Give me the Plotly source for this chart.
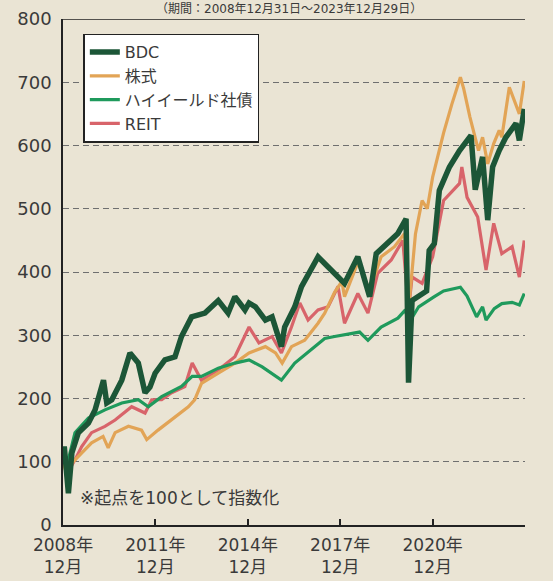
import plotly.graph_objects as go

# ---------------- data ----------------
bdc_dates = ["2008-12-31","2009-01-15","2009-03-05","2009-04-15","2009-07-01","2009-10-28","2010-01-15",
             "2010-04-25","2010-06-03","2010-08-01","2010-11-28","2011-03-05","2011-06-12","2011-08-31",
             "2011-10-28","2011-12-28","2012-04-22","2012-08-20","2012-11-05","2013-03-05","2013-08-10",
             "2014-01-15","2014-05-12","2014-07-31","2014-11-28","2015-01-15","2015-04-01","2015-07-28",
             "2015-10-15","2016-02-03","2016-03-12","2016-07-10","2016-09-28","2017-01-25","2017-04-12",
             "2017-08-10","2018-02-20","2018-07-28","2018-12-15","2019-03-03","2019-07-20","2019-11-15",
             "2020-02-20","2020-03-20","2020-05-01","2020-08-28","2020-10-20","2020-11-20","2021-01-20",
             "2021-03-20","2021-07-18","2021-11-15","2022-03-31","2022-05-20","2022-08-15","2022-10-15",
             "2022-12-12","2023-02-28","2023-05-18","2023-09-15","2023-10-25","2023-12-22"]
bdc_values = [100,124,50,114,146,161,182,
              229,193,198,229,272,256,209,
              218,240,261,266,298,329,335,
              355,335,361,340,351,345,324,
              329,282,313,345,377,403,424,
              408,382,424,361,429,445,461,
              484,225,355,366,370,434,445,
              529,566,592,616,530,582,482,
              566,592,613,635,608,658]

stock_dates = ["2008-12-31","2009-03-06","2009-04-15","2009-08-10","2009-12-05","2010-04-20","2010-06-20",
               "2010-09-10","2011-02-15","2011-07-20","2011-09-20","2012-02-01","2012-07-10","2013-01-25",
               "2013-04-10","2013-06-30","2014-01-15","2014-07-31","2015-01-15","2015-07-28","2015-11-25",
               "2016-02-12","2016-06-01","2016-11-05","2017-04-12","2017-06-30","2017-10-25","2018-01-20",
               "2018-02-20","2018-07-28","2018-12-15","2019-04-30","2019-10-05","2020-02-02","2020-03-20",
               "2020-06-10","2020-08-28","2020-10-28","2020-12-31","2021-05-10","2021-08-15","2021-11-25",
               "2022-01-03","2022-03-18","2022-06-28","2022-08-15","2022-10-15","2022-12-25","2023-02-28",
               "2023-03-31","2023-06-28","2023-09-15","2023-10-25","2023-12-22"]
stock_values = [100,72,98,114,130,140,122,
                146,156,150,135,150,166,187,
                198,224,240,256,272,282,272,
                256,282,292,319,335,368,385,
                361,415,371,424,440,461,340,
                460,513,500,550,620,665,708,
                690,645,592,613,571,603,624,
                613,692,666,650,702]

hy_dates = ["2008-12-31","2009-01-28","2009-03-06","2009-05-22","2009-10-28","2010-05-12","2010-11-28",
            "2011-06-12","2011-10-08","2012-03-15","2012-11-05","2013-03-12","2013-06-30","2014-01-15",
            "2014-07-31","2015-01-15","2015-06-20","2016-02-03","2016-07-10","2017-01-25","2017-06-30",
            "2017-10-25","2018-05-12","2018-08-18","2018-11-25","2019-04-30","2019-11-15","2020-02-12",
            "2020-03-22","2020-07-18","2021-01-20","2021-05-10","2021-11-25","2022-02-12","2022-06-05",
            "2022-08-15","2022-09-25","2022-12-31","2023-03-31","2023-07-31","2023-10-25","2023-12-22"]
hy_values = [100,108,104,146,169,182,193,
             198,187,203,219,235,235,248,
             256,261,250,229,256,277,295,
             298,303,305,292,313,327,340,
             319,345,361,370,376,362,329,
             345,324,342,350,352,348,366]

reit_dates = ["2008-12-31","2009-03-05","2009-05-22","2009-08-10","2009-12-05","2010-05-12","2010-09-10",
              "2011-03-25","2011-08-31","2011-11-18","2012-03-15","2012-07-10","2012-12-15","2013-03-12",
              "2013-06-30","2014-01-15","2014-07-31","2015-01-15","2015-05-12","2015-10-15","2016-02-03",
              "2016-06-01","2016-09-08","2016-12-15","2017-04-12","2017-08-10","2017-12-05","2018-02-20",
              "2018-07-28","2018-11-25","2019-03-20","2019-08-28","2020-01-12","2020-03-20","2020-05-01",
              "2020-08-28","2020-12-31","2021-05-10","2021-11-15","2021-12-12","2022-02-12","2022-06-18",
              "2022-09-25","2022-12-25","2023-03-31","2023-07-31","2023-10-25","2023-12-22"]
reit_values = [100,85,103,124,146,156,166,
               187,177,198,198,209,219,256,
               229,245,266,313,288,298,272,
               313,351,324,340,345,377,319,
               366,335,398,419,450,340,392,
               382,424,513,540,566,518,487,
               403,477,429,440,392,450]

series_names = ["BDC", "株式", "ハイイールド社債", "REIT"]
x_tick_vals = ["2008-12-31", "2011-12-31", "2014-12-31", "2017-12-31", "2020-12-31"]
x_tick_text = ["2008年<br>12月", "2011年<br>12月", "2014年<br>12月", "2017年<br>12月", "2020年<br>12月"]
y_tick_vals = [0, 100, 200, 300, 400, 500, 600, 700, 800]
period_text = "（期間：2008年12月31日～2023年12月29日）"
note_text = "※起点を100として指数化"

# ---------------- styles ----------------
BG = "#EAE4D4"
INK = "#3a3a3a"
FONT = "DejaVu Sans, Noto Sans CJK JP, sans-serif"

fig = go.Figure()
# drawing order: REIT, stocks, HY, BDC on top; legend order via legendrank
fig.add_trace(go.Scatter(x=reit_dates, y=reit_values, name=series_names[3], mode="lines",
                         line=dict(color="#D8646A", width=3.2), legendrank=4))
fig.add_trace(go.Scatter(x=stock_dates, y=stock_values, name=series_names[1], mode="lines",
                         line=dict(color="#E2A456", width=3.2), legendrank=2))
fig.add_trace(go.Scatter(x=hy_dates, y=hy_values, name=series_names[2], mode="lines",
                         line=dict(color="#1F9A5C", width=3.2), legendrank=3))
fig.add_trace(go.Scatter(x=bdc_dates, y=bdc_values, name=series_names[0], mode="lines",
                         line=dict(color="#1C5637", width=5.5), legendrank=1))

fig.update_layout(
    width=553, height=581,
    margin=dict(l=63, r=28, t=19, b=56, autoexpand=False),
    paper_bgcolor=BG, plot_bgcolor=BG,
    font=dict(family=FONT, color=INK, size=17),
    showlegend=True,
    legend=dict(x=0.044, y=0.971, xanchor="left", yanchor="top",
                bgcolor="white", bordercolor="#222", borderwidth=1.5,
                font=dict(size=16, family=FONT, color=INK), tracegroupgap=0,
                traceorder="normal"),
    xaxis=dict(type="date", range=["2008-12-31", "2023-12-31"],
               tickmode="array", tickvals=x_tick_vals, ticktext=x_tick_text,
               ticks="inside", ticklen=6, tickwidth=1.5, tickcolor="#222",
               showline=True, linecolor="#222", linewidth=1.5,
               showgrid=False, zeroline=False, automargin=False,
               tickfont=dict(size=17, family=FONT, color=INK),
               ticklabelstandoff=4),
    yaxis=dict(range=[0, 800], tickmode="array", tickvals=y_tick_vals,
               showline=True, linecolor="#222", linewidth=1.5,
               showgrid=True, gridcolor="#6f6f6f", gridwidth=1, griddash="6px,4px",
               zeroline=False, ticks="", automargin=False,
               tickfont=dict(size=18, family=FONT, color=INK),
               ticklabelstandoff=6),
    shapes=[dict(type="line", xref="paper", x0=0, x1=1, yref="y", y0=800, y1=800,
                 line=dict(color="#222", width=1.5))],
    annotations=[
        dict(text=note_text, xref="paper", x=0.032, xanchor="left",
             yref="y", y=43, yanchor="middle", showarrow=False,
             font=dict(size=17, family=FONT, color=INK)),
        dict(text=period_text, xref="paper", x=0.49, xanchor="center",
             yref="paper", y=1.0, yshift=10, yanchor="middle", showarrow=False,
             font=dict(size=12, family=FONT, color=INK)),
    ],
)

fig.write_html("out.html", config={"displayModeBar": False},
               post_script="document.body.style.margin='0';")
